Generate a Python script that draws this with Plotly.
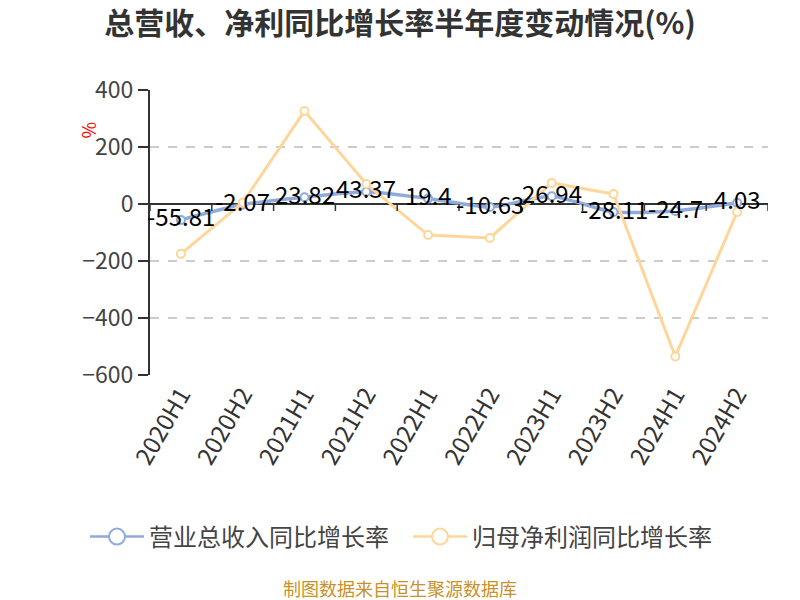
import plotly.graph_objects as go

categories = ["2020H1", "2020H2", "2021H1", "2021H2", "2022H1",
              "2022H2", "2023H1", "2023H2", "2024H1", "2024H2"]
revenue_growth = [-55.81, -2.07, 23.82, 43.37, 19.4, -10.63, 26.94, -28.11, -24.7, 4.03]
profit_growth = [-175, 5, 326, 70, -109, -119, 74, 35, -535, -28]

series_names = ["营业总收入同比增长率", "归母净利润同比增长率"]
title_text = "总营收、净利同比增长率半年度变动情况(%)"
source_text = "制图数据来自恒生聚源数据库"

BLUE = "#8FAADC"
ORANGE = "#FFD699"
FONT = "Noto Sans CJK SC"

fig = go.Figure()
fig.add_trace(go.Scatter(
    x=categories, y=revenue_growth, name=series_names[0], showlegend=False,
    mode="lines+markers", line=dict(color=BLUE, width=3.5, shape="spline", smoothing=0.6),
    marker=dict(symbol="circle", size=8, color="white", line=dict(color=BLUE, width=2)),
))
fig.add_trace(go.Scatter(
    x=categories, y=profit_growth, name=series_names[1], showlegend=False,
    mode="lines+markers", line=dict(color=ORANGE, width=3),
    marker=dict(symbol="circle", size=8, color="white", line=dict(color=ORANGE, width=2)),
))
# legend-only entries with larger symbols, one legend each
for name, col, lg in zip(series_names, [BLUE, ORANGE], ["legend", "legend2"]):
    fig.add_trace(go.Scatter(
        x=[None], y=[None], name=name, mode="lines+markers", legend=lg,
        line=dict(color=col, width=2.5),
        marker=dict(symbol="circle", size=18, color="white", line=dict(color=col, width=2)),
    ))

annotations = []
for c, v in zip(categories, revenue_growth):
    annotations.append(dict(
        x=c, y=v, xref="x", yref="y", text=f"{v:g}", showarrow=False,
        yshift=4, font=dict(family=FONT, size=24, color="#000000"),
    ))
annotations.append(dict(
    x=(72 - 150) / 618, y=(375 - 120) / 285, xref="paper", yref="paper", text="%",
    showarrow=False, textangle=-90, font=dict(family=FONT, size=18, color="red"),
))
annotations.append(dict(
    x=(400 - 150) / 618, y=(375 - 588) / 285, xref="paper", yref="paper",
    text=source_text, showarrow=False,
    xanchor="center", yanchor="middle", font=dict(family=FONT, size=18, color="#C8922A"),
))

shapes = []
for i in range(len(categories) + 1):
    shapes.append(dict(
        type="line", xref="x", yref="y", x0=i - 0.5, x1=i - 0.5,
        ysizemode="pixel", yanchor=0, y0=0, y1=-7,
        line=dict(color="#333333", width=1.5),
    ))

legend_common = dict(orientation="h", xanchor="left", xref="container",
                     y=1 - 537 / 600, yanchor="middle", yref="container",
                     font=dict(family=FONT, size=24, color="#444444"),
                     itemwidth=54)

fig.update_layout(
    width=800, height=600,
    margin=dict(l=150, r=32, t=90, b=225, autoexpand=False),
    paper_bgcolor="white", plot_bgcolor="white",
    font=dict(family=FONT, color="#333333"),
    title=dict(text=f"<b>{title_text}</b>", x=0.5, xanchor="center", xref="container",
               y=1 - 23 / 600, yanchor="middle", yref="container",
               font=dict(family=FONT, size=30, color="#333333")),
    legend=dict(x=85 / 800, **legend_common),
    legend2=dict(x=408 / 800, **legend_common),
    showlegend=True,
    annotations=annotations,
    shapes=shapes,
)
fig.update_xaxes(
    type="category", range=[-0.5, len(categories) - 0.5],
    showline=False, showgrid=False, zeroline=False, ticks="",
    tickangle=-60, tickfont=dict(family=FONT, size=24, color="#333333"),
)
fig.update_yaxes(
    range=[-600, 400], dtick=200, tick0=0,
    showline=True, linecolor="#333333", linewidth=2,
    ticks="outside", ticklen=10, tickcolor="#333333", tickwidth=1.5,
    showgrid=True, gridcolor="#CCCCCC", griddash="dash", gridwidth=1.5,
    zeroline=True, zerolinecolor="#333333", zerolinewidth=2,
    tickfont=dict(family=FONT, size=23, color="#444444"),
)

fig.write_html("out.html", config={"displayModeBar": False},
               post_script="document.body.style.margin='0px';")
